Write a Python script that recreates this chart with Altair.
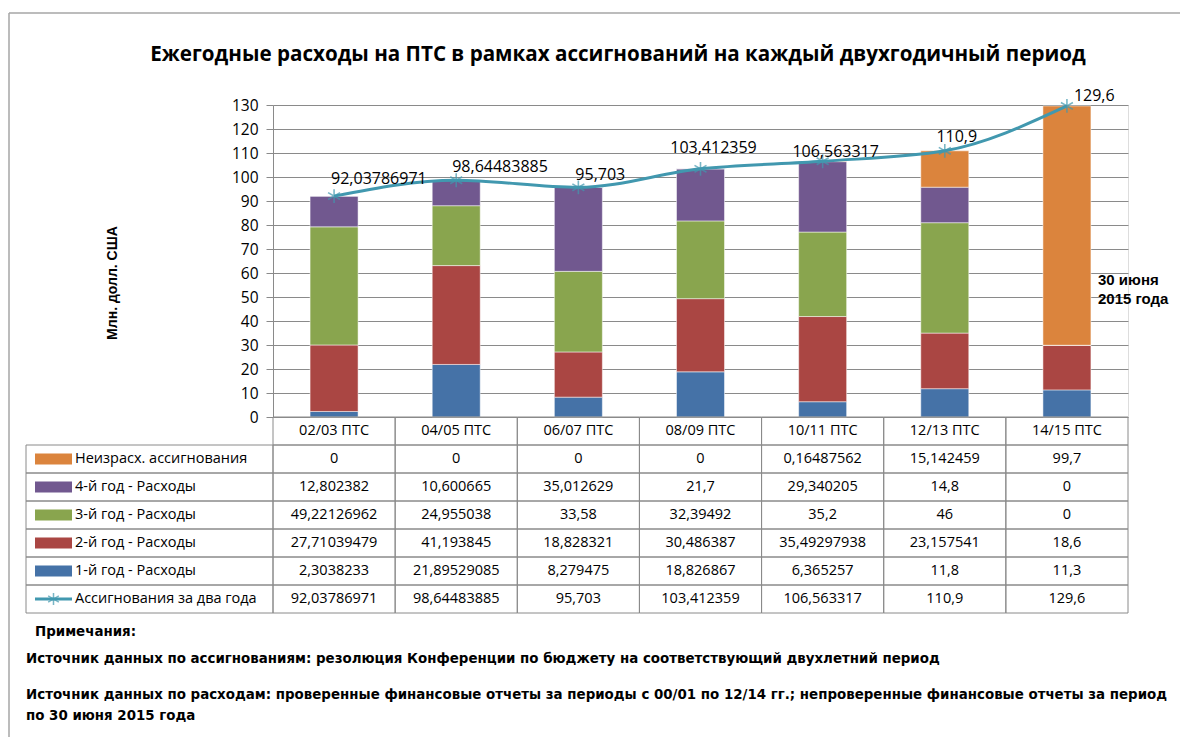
import altair as alt
import pandas as pd

# ---------------- data ----------------
categories = ["02/03 ПТС", "04/05 ПТС", "06/07 ПТС", "08/09 ПТС", "10/11 ПТС", "12/13 ПТС", "14/15 ПТС"]
unspent = [0, 0, 0, 0, 0.16487562, 15.142459, 99.7]
year4 = [12.802382, 10.600665, 35.012629, 21.7, 29.340205, 14.8, 0]
year3 = [49.22126962, 24.955038, 33.58, 32.39492, 35.2, 46, 0]
year2 = [27.71039479, 41.193845, 18.828321, 30.486387, 35.49297938, 23.157541, 18.6]
year1 = [2.3038233, 21.89529085, 8.279475, 18.826867, 6.365257, 11.8, 11.3]
appropriations = [92.03786971, 98.64483885, 95.703, 103.412359, 106.563317, 110.9, 129.6]

series_names = ["1-й год - Расходы", "2-й год - Расходы", "3-й год - Расходы",
                "4-й год - Расходы", "Неизрасх. ассигнования"]
line_name = "Ассигнования за два  года"
y_ticks = list(range(0, 131, 10))

title_text = "Ежегодные расходы на ПТС в рамках ассигнований на каждый двухгодичный период"
y_title = "Млн. долл. США"
side_note = "30 июня\n2015 года"
notes = [
    "Примечания:",
    "Источник данных по ассигнованиям: резолюция  Конференции  по бюджету на соответствующий двухлетний период",
    "Источник данных по расходам: проверенные финансовые  отчеты за периоды с 00/01 по 12/14 гг.; непроверенные финансовые  отчеты за период",
    "по 30 июня 2015 года",
]

# ---------------- styles ----------------
colors = ["#4572A7", "#AA4643", "#89A54E", "#71588F", "#DB843D"]
teal = "#4198AF"
grid_gray = "#8a8a8a"
FONT = "Open Sans"
ARIAL = "Liberation Sans"
STAR = "M0,-1L0,1M-0.87,-0.5L0.87,0.5M-0.87,0.5L0.87,-0.5"

series_values = [year1, year2, year3, year4, unspent]


def fmt(v):
    s = repr(v) if isinstance(v, float) else str(v)
    return s.replace(".", ",")


bar_rows = []
for i, (name, vals) in enumerate(zip(series_names, series_values)):
    for c, v in zip(categories, vals):
        bar_rows.append({"category": c, "series": name, "value": v, "order": i})
bar_df = pd.DataFrame(bar_rows)

line_df = pd.DataFrame({"category": categories, "value": appropriations,
                        "label": [fmt(v) for v in appropriations]})

# table
table_rows = ["Неизрасх. ассигнования", "4-й год - Расходы", "3-й год - Расходы",
              "2-й год - Расходы", "1-й год - Расходы", line_name]
table_vals = [unspent, year4, year3, year2, year1, appropriations]
row_domain = ["hdr"] + table_rows

cell_rows = []
for r, vals in zip(table_rows, table_vals):
    for c, v in zip(categories, vals):
        cell_rows.append({"category": c, "row": r, "label": fmt(v)})
for c in categories:
    cell_rows.append({"category": c, "row": "hdr", "label": c})
cell_df = pd.DataFrame(cell_rows)

rowlab_df = pd.DataFrame({"row": table_rows, "series": table_rows})

# ---------------- encodings ----------------
x_enc = alt.X("category:N", sort=categories,
              scale=alt.Scale(domain=categories, paddingInner=0, paddingOuter=0), axis=None)
y_scale = alt.Scale(domain=[0, 130], nice=False)
y_axis = alt.Axis(values=y_ticks, title=None, grid=True, gridColor=grid_gray, gridWidth=1,
                  domainColor=grid_gray, tickColor=grid_gray, tickSize=7, labelPadding=8,
                  labelFont=FONT, labelFontSize=15.5, labelColor="black", format="d")
color_enc = alt.Color("series:N", scale=alt.Scale(domain=series_names, range=colors), legend=None)

tab_scale = alt.Scale(type="band", domain=row_domain, range=[312, 508], paddingInner=0, paddingOuter=0)
y_tab = alt.Y("row:N", scale=tab_scale, axis=None)
y_tab_c = alt.Y("row:N", scale=tab_scale, axis=None, bandPosition=0.5)

# ---------------- main plot ----------------
bars = alt.Chart(bar_df).mark_bar(size=48, stroke="white", strokeWidth=0.5).encode(
    x=x_enc,
    y=alt.Y("value:Q", stack="zero", scale=y_scale, axis=y_axis),
    color=color_enc,
    order=alt.Order("order:Q"),
)

y_line = alt.Y("value:Q", scale=y_scale, axis=y_axis)

line = alt.Chart(line_df).mark_line(color=teal, strokeWidth=3, interpolate="monotone").encode(
    x=x_enc, y=y_line)

points = alt.Chart(line_df).mark_point(shape=STAR, filled=False, size=190, strokeWidth=1.6, color=teal).encode(
    x=x_enc, y=y_line)

label_style = {
    "02/03 ПТС": ("left", -3, -17),
    "04/05 ПТС": ("left", -4, -13),
    "06/07 ПТС": ("left", -3, -12),
    "08/09 ПТС": ("center", 13, -21),
    "10/11 ПТС": ("center", 13, -9),
    "12/13 ПТС": ("center", 12, -14),
    "14/15 ПТС": ("left", 7, -10),
}
label_layers = []
for c in categories:
    al, dx, dy = label_style[c]
    label_layers.append(
        alt.Chart(line_df).transform_filter(alt.datum.category == c)
        .mark_text(align=al, baseline="middle", dx=dx, dy=dy, font=FONT, fontSize=16, color="black")
        .encode(x=x_enc, y=y_line, text="label:N")
    )

main = alt.layer(bars, line, points, *label_layers)

# ---------------- data table ----------------
cells = alt.Chart(cell_df).mark_rect(fillOpacity=0, stroke=grid_gray, strokeWidth=1).encode(
    x=x_enc, y=y_tab)
label_cells = alt.Chart(rowlab_df).mark_rect(fillOpacity=0, stroke=grid_gray, strokeWidth=1).encode(
    x=alt.value(-247), x2=alt.value(0), y=y_tab)
cell_text = alt.Chart(cell_df).mark_text(font=FONT, fontSize=14.5, color="black", baseline="middle").encode(
    x=x_enc, y=y_tab_c, text="label:N")
row_text = alt.Chart(rowlab_df).mark_text(font=FONT, fontSize=14.5, color="black", align="left",
                                          baseline="middle").encode(
    x=alt.value(-198), y=y_tab_c, text="row:N")
swatches = alt.Chart(rowlab_df).transform_filter(alt.datum.row != line_name).mark_rule(strokeWidth=11).encode(
    x=alt.value(-238), x2=alt.value(-201), y=y_tab_c, color=color_enc)
line_swatch = alt.Chart(rowlab_df).transform_filter(alt.datum.row == line_name).mark_rule(
    strokeWidth=3, color=teal).encode(x=alt.value(-238), x2=alt.value(-201), y=y_tab_c)
line_swatch_pt = alt.Chart(rowlab_df).transform_filter(alt.datum.row == line_name).mark_point(
    shape=STAR, filled=False, size=150, strokeWidth=1.5, color=teal).encode(x=alt.value(-219.5), y=y_tab_c)

table = alt.layer(cells, label_cells, cell_text, row_text, swatches, line_swatch, line_swatch_pt)

# ---------------- annotations ----------------
one = pd.DataFrame({"t": [title_text]})
title = alt.Chart(one).mark_text(font=FONT, fontSize=20.6, fontWeight="bold", color="black",
                                 align="center", baseline="middle").encode(
    x=alt.value(345), y=alt.value(-50), text="t:N")
ytitle = alt.Chart(pd.DataFrame({"t": [y_title]})).mark_text(
    font=ARIAL, fontSize=14, fontWeight="bold", color="black", angle=270,
    align="center", baseline="middle").encode(x=alt.value(-160), y=alt.value(178), text="t:N")
side = alt.Chart(pd.DataFrame({"t": [side_note]})).mark_text(
    font=ARIAL, fontSize=15, fontWeight="bold", color="black", align="left", baseline="top",
    lineBreak="\n", lineHeight=19).encode(x=alt.value(825), y=alt.value(168), text="t:N")

note_pos = [(-238, 527), (-247, 554), (-247, 590), (-247, 611)]
note_layers = []
for t, (nx, ny) in zip(notes, note_pos):
    note_layers.append(
        alt.Chart(pd.DataFrame({"t": [t]})).mark_text(
            font="DejaVu Sans", fontSize=13.4, fontWeight="bold", color="black",
            align="left", baseline="middle").encode(x=alt.value(nx), y=alt.value(ny), text="t:N"))

frame_top = alt.Chart(one).mark_rule(color="#a6a6a6", strokeWidth=1.5).encode(
    x=alt.value(-264), x2=alt.value(912), y=alt.value(-92))
frame_left = alt.Chart(one).mark_rule(color="#a6a6a6", strokeWidth=1.5).encode(
    x=alt.value(-264), y=alt.value(-92), y2=alt.value(645))

chart = alt.layer(main, table, title, ytitle, side, *note_layers, frame_top, frame_left).resolve_scale(
    y="independent"
).resolve_axis(y="independent").properties(
    width=855, height=312, autosize="none",
    padding={"left": 265, "top": 97, "right": 52, "bottom": 320},
).configure_view(strokeWidth=0).configure(background="white")

chart.save("out.html", embed_options={"renderer": "svg", "actions": False})
